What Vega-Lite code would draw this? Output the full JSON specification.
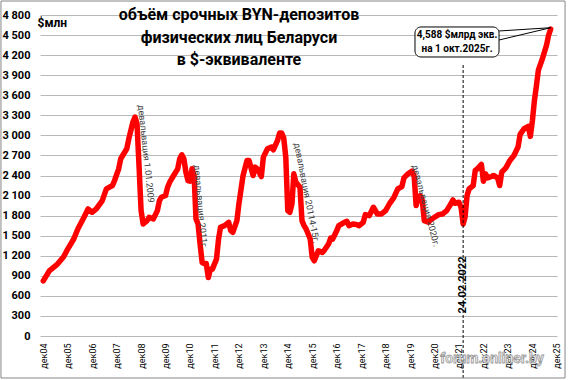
{
  "$schema": "https://vega.github.io/schema/vega-lite/v6.json",
  "width": 517,
  "height": 321,
  "autosize": "none",
  "padding": {"left": 40, "top": 15, "right": 11, "bottom": 44},
  "background": "white",
  "config": {"view": {"stroke": null}, "font": "Roboto"},
  "layer": [
    {
      "data": {"values": [
        {"date": "2004-12-01", "value": 825},
        {"date": "2005-03-01", "value": 975},
        {"date": "2005-07-01", "value": 1075},
        {"date": "2005-10-01", "value": 1185},
        {"date": "2005-12-01", "value": 1300},
        {"date": "2006-03-01", "value": 1450},
        {"date": "2006-05-01", "value": 1600},
        {"date": "2006-08-01", "value": 1775},
        {"date": "2006-10-01", "value": 1900},
        {"date": "2006-12-01", "value": 1850},
        {"date": "2007-02-01", "value": 1900},
        {"date": "2007-05-01", "value": 2025},
        {"date": "2007-07-01", "value": 2200},
        {"date": "2007-10-01", "value": 2250},
        {"date": "2007-11-01", "value": 2325},
        {"date": "2008-01-01", "value": 2500},
        {"date": "2008-02-01", "value": 2650},
        {"date": "2008-05-01", "value": 2800},
        {"date": "2008-06-01", "value": 2950},
        {"date": "2008-08-01", "value": 3200},
        {"date": "2008-09-01", "value": 3275},
        {"date": "2008-10-01", "value": 3175},
        {"date": "2008-11-01", "value": 2525},
        {"date": "2008-12-01", "value": 1875},
        {"date": "2009-01-01", "value": 1675},
        {"date": "2009-03-01", "value": 1725},
        {"date": "2009-04-01", "value": 1775},
        {"date": "2009-06-01", "value": 1750},
        {"date": "2009-08-01", "value": 1875},
        {"date": "2009-09-01", "value": 2025},
        {"date": "2009-10-01", "value": 2075},
        {"date": "2009-12-01", "value": 2100},
        {"date": "2010-01-01", "value": 2225},
        {"date": "2010-02-01", "value": 2300},
        {"date": "2010-04-01", "value": 2400},
        {"date": "2010-06-01", "value": 2500},
        {"date": "2010-07-01", "value": 2650},
        {"date": "2010-08-01", "value": 2710},
        {"date": "2010-09-01", "value": 2650},
        {"date": "2010-10-01", "value": 2450},
        {"date": "2010-11-01", "value": 2325},
        {"date": "2010-12-01", "value": 2315},
        {"date": "2011-01-01", "value": 2500},
        {"date": "2011-02-01", "value": 2400},
        {"date": "2011-03-01", "value": 1750},
        {"date": "2011-04-01", "value": 1675},
        {"date": "2011-05-01", "value": 1375},
        {"date": "2011-06-01", "value": 1100},
        {"date": "2011-07-01", "value": 1085},
        {"date": "2011-08-01", "value": 1085},
        {"date": "2011-09-01", "value": 875},
        {"date": "2011-10-01", "value": 1000},
        {"date": "2011-11-01", "value": 1000},
        {"date": "2012-01-01", "value": 1150},
        {"date": "2012-02-01", "value": 1450},
        {"date": "2012-03-01", "value": 1625},
        {"date": "2012-05-01", "value": 1650},
        {"date": "2012-07-01", "value": 1700},
        {"date": "2012-08-01", "value": 1575},
        {"date": "2012-09-01", "value": 1550},
        {"date": "2012-11-01", "value": 1725},
        {"date": "2012-12-01", "value": 1975},
        {"date": "2013-02-01", "value": 2400},
        {"date": "2013-04-01", "value": 2625},
        {"date": "2013-05-01", "value": 2625},
        {"date": "2013-07-01", "value": 2400},
        {"date": "2013-08-01", "value": 2525},
        {"date": "2013-09-01", "value": 2500},
        {"date": "2013-11-01", "value": 2385},
        {"date": "2013-12-01", "value": 2675},
        {"date": "2014-02-01", "value": 2800},
        {"date": "2014-04-01", "value": 2825},
        {"date": "2014-05-01", "value": 2785},
        {"date": "2014-07-01", "value": 2925},
        {"date": "2014-08-01", "value": 3035},
        {"date": "2014-09-01", "value": 3035},
        {"date": "2014-10-01", "value": 2965},
        {"date": "2014-11-01", "value": 2675},
        {"date": "2014-12-01", "value": 1875},
        {"date": "2015-01-01", "value": 1850},
        {"date": "2015-02-01", "value": 1975},
        {"date": "2015-03-01", "value": 2425},
        {"date": "2015-04-01", "value": 2300},
        {"date": "2015-06-01", "value": 2225},
        {"date": "2015-07-01", "value": 1725},
        {"date": "2015-08-01", "value": 1650},
        {"date": "2015-09-01", "value": 1600},
        {"date": "2015-11-01", "value": 1450},
        {"date": "2015-12-01", "value": 1175},
        {"date": "2016-01-01", "value": 1125},
        {"date": "2016-03-01", "value": 1275},
        {"date": "2016-05-01", "value": 1250},
        {"date": "2016-06-01", "value": 1285},
        {"date": "2016-08-01", "value": 1375},
        {"date": "2016-09-01", "value": 1465},
        {"date": "2016-10-01", "value": 1450},
        {"date": "2016-12-01", "value": 1575},
        {"date": "2017-01-01", "value": 1650},
        {"date": "2017-03-01", "value": 1685},
        {"date": "2017-05-01", "value": 1715},
        {"date": "2017-06-01", "value": 1650},
        {"date": "2017-08-01", "value": 1675},
        {"date": "2017-10-01", "value": 1665},
        {"date": "2017-11-01", "value": 1650},
        {"date": "2018-01-01", "value": 1700},
        {"date": "2018-02-01", "value": 1815},
        {"date": "2018-04-01", "value": 1800},
        {"date": "2018-06-01", "value": 1925},
        {"date": "2018-08-01", "value": 1825},
        {"date": "2018-10-01", "value": 1825},
        {"date": "2018-12-01", "value": 1875},
        {"date": "2019-02-01", "value": 1985},
        {"date": "2019-04-01", "value": 2065},
        {"date": "2019-06-01", "value": 2200},
        {"date": "2019-08-01", "value": 2235},
        {"date": "2019-09-01", "value": 2365},
        {"date": "2019-11-01", "value": 2425},
        {"date": "2020-01-01", "value": 2465},
        {"date": "2020-02-01", "value": 2385},
        {"date": "2020-03-01", "value": 1950},
        {"date": "2020-04-01", "value": 2075},
        {"date": "2020-05-01", "value": 2100},
        {"date": "2020-06-01", "value": 2025},
        {"date": "2020-07-01", "value": 1725},
        {"date": "2020-09-01", "value": 1700},
        {"date": "2020-10-01", "value": 1735},
        {"date": "2020-12-01", "value": 1775},
        {"date": "2021-02-01", "value": 1815},
        {"date": "2021-04-01", "value": 1825},
        {"date": "2021-06-01", "value": 1875},
        {"date": "2021-08-01", "value": 1975},
        {"date": "2021-09-01", "value": 2035},
        {"date": "2021-10-01", "value": 1985},
        {"date": "2021-12-01", "value": 2000},
        {"date": "2022-01-01", "value": 1925},
        {"date": "2022-02-01", "value": 1675},
        {"date": "2022-03-01", "value": 1775},
        {"date": "2022-04-01", "value": 2100},
        {"date": "2022-05-01", "value": 2200},
        {"date": "2022-07-01", "value": 2250},
        {"date": "2022-08-01", "value": 2475},
        {"date": "2022-09-01", "value": 2500},
        {"date": "2022-11-01", "value": 2565},
        {"date": "2022-12-01", "value": 2315},
        {"date": "2023-01-01", "value": 2425},
        {"date": "2023-02-01", "value": 2365},
        {"date": "2023-04-01", "value": 2385},
        {"date": "2023-05-01", "value": 2400},
        {"date": "2023-07-01", "value": 2365},
        {"date": "2023-08-01", "value": 2250},
        {"date": "2023-09-01", "value": 2450},
        {"date": "2023-11-01", "value": 2515},
        {"date": "2024-01-01", "value": 2625},
        {"date": "2024-03-01", "value": 2700},
        {"date": "2024-05-01", "value": 2825},
        {"date": "2024-06-01", "value": 3015},
        {"date": "2024-08-01", "value": 3100},
        {"date": "2024-10-01", "value": 3135},
        {"date": "2024-11-01", "value": 2985},
        {"date": "2024-12-01", "value": 3215},
        {"date": "2025-01-01", "value": 3525},
        {"date": "2025-02-01", "value": 3750},
        {"date": "2025-03-01", "value": 3975},
        {"date": "2025-05-01", "value": 4150},
        {"date": "2025-07-01", "value": 4350},
        {"date": "2025-08-01", "value": 4500},
        {"date": "2025-09-01", "value": 4588}
      ]},
      "mark": {"type": "line", "color": "#ff0000", "strokeWidth": 5.5, "strokeJoin": "round", "strokeCap": "round"},
      "encoding": {
        "x": {
          "field": "date", "type": "temporal",
          "scale": {"type": "utc", "domain": [{"year": 2004, "month": 10, "date": 13, "utc": true}, {"year": 2025, "month": 12, "date": 4, "utc": true}]},
          "axis": {
            "title": null, "grid": false, "domain": false, "ticks": false,
            "tickCount": 100,
            "values": [
              {"year": 2004, "month": 12, "date": 1, "utc": true},
              {"year": 2005, "month": 12, "date": 1, "utc": true},
              {"year": 2006, "month": 12, "date": 1, "utc": true},
              {"year": 2007, "month": 12, "date": 1, "utc": true},
              {"year": 2008, "month": 12, "date": 1, "utc": true},
              {"year": 2009, "month": 12, "date": 1, "utc": true},
              {"year": 2010, "month": 12, "date": 1, "utc": true},
              {"year": 2011, "month": 12, "date": 1, "utc": true},
              {"year": 2012, "month": 12, "date": 1, "utc": true},
              {"year": 2013, "month": 12, "date": 1, "utc": true},
              {"year": 2014, "month": 12, "date": 1, "utc": true},
              {"year": 2015, "month": 12, "date": 1, "utc": true},
              {"year": 2016, "month": 12, "date": 1, "utc": true},
              {"year": 2017, "month": 12, "date": 1, "utc": true},
              {"year": 2018, "month": 12, "date": 1, "utc": true},
              {"year": 2019, "month": 12, "date": 1, "utc": true},
              {"year": 2020, "month": 12, "date": 1, "utc": true},
              {"year": 2021, "month": 12, "date": 1, "utc": true},
              {"year": 2022, "month": 12, "date": 1, "utc": true},
              {"year": 2023, "month": 12, "date": 1, "utc": true},
              {"year": 2024, "month": 12, "date": 1, "utc": true},
              {"year": 2025, "month": 12, "date": 1, "utc": true}
            ],
            "labelExpr": "'дек' + utcFormat(datum.value, '%y')",
            "labelAngle": 270, "labelAlign": "right", "labelBaseline": "middle",
            "labelPadding": 7, "labelFontSize": 9, "labelColor": "#000000", "labelFont": "Roboto",
            "labelOverlap": false
          }
        },
        "y": {
          "field": "value", "type": "quantitative",
          "scale": {"domain": [0, 4800], "nice": false},
          "axis": {
            "tickCount": 100,
            "values": [0, 300, 600, 900, 1200, 1500, 1800, 2100, 2400, 2700, 3000, 3300, 3600, 3900, 4200, 4500, 4800],
            "labelExpr": "replace(format(datum.value, ','), ',', ' ')",
            "grid": true, "gridColor": "#b8b8b8", "gridWidth": 1,
            "domain": false, "ticks": false,
            "labelPadding": 10, "labelFont": "Roboto", "labelFontSize": 11, "labelFontWeight": "bold", "labelColor": "#000000",
            "labelOverlap": false,
            "title": "$млн", "titleAngle": 0, "titleX": -3, "titleY": 7,
            "titleAlign": "left", "titleBaseline": "middle",
            "titleFont": "Roboto", "titleFontSize": 12, "titleFontWeight": "bold", "titleColor": "#000000"
          }
        }
      }
    },
    {
      "data": {"values": [{}]},
      "mark": {"type": "rule", "strokeDash": [3, 2], "color": "#000000", "strokeWidth": 1},
      "encoding": {
        "x": {"datum": {"year": 2022, "month": 2, "date": 1, "utc": true}, "type": "temporal"},
        "y": {"datum": 4052},
        "y2": {"datum": -643}
      }
    },
    {
      "data": {"values": [{}]},
      "mark": {"type": "text", "angle": 270, "align": "center", "baseline": "middle", "fontSize": 11, "fontWeight": "bold", "color": "#000000", "font": "Roboto"},
      "encoding": {
        "x": {"datum": {"year": 2022, "month": 2, "date": 1, "utc": true}, "type": "temporal"},
        "y": {"datum": 763},
        "text": {"value": "24.02.2022"}
      }
    },
    {
      "data": {"values": [{}]},
      "mark": {"type": "text", "angle": 84, "align": "left", "baseline": "middle", "fontSize": 9, "color": "#404040", "font": "Roboto"},
      "encoding": {
        "x": {"datum": {"year": 2008, "month": 11, "date": 30, "utc": true}, "type": "temporal"},
        "y": {"datum": 3454},
        "text": {"value": "девальвация  1.01.2009"}
      }
    },
    {
      "data": {"values": [{}]},
      "mark": {"type": "text", "angle": 85, "align": "left", "baseline": "middle", "fontSize": 9, "color": "#404040", "font": "Roboto"},
      "encoding": {
        "x": {"datum": {"year": 2011, "month": 3, "date": 16, "utc": true}, "type": "temporal"},
        "y": {"datum": 2557},
        "text": {"value": "девальвация  2011г."}
      }
    },
    {
      "data": {"values": [{}]},
      "mark": {"type": "text", "angle": 79, "align": "left", "baseline": "middle", "fontSize": 9, "color": "#404040", "font": "Roboto"},
      "encoding": {
        "x": {"datum": {"year": 2015, "month": 4, "date": 18, "utc": true}, "type": "temporal"},
        "y": {"datum": 2886},
        "text": {"value": "девальвация  20114-15г."}
      }
    },
    {
      "data": {"values": [{}]},
      "mark": {"type": "text", "angle": 75, "align": "left", "baseline": "middle", "fontSize": 9, "color": "#404040", "font": "Roboto"},
      "encoding": {
        "x": {"datum": {"year": 2020, "month": 2, "date": 13, "utc": true}, "type": "temporal"},
        "y": {"datum": 2557},
        "text": {"value": "девальвация  2020г."}
      }
    },
    {
      "data": {"values": [{}]},
      "mark": {"type": "rule", "color": "#000000", "strokeWidth": 1},
      "encoding": {
        "x": {"datum": {"year": 2023, "month": 7, "date": 22, "utc": true}, "type": "temporal"},
        "x2": {"datum": {"year": 2025, "month": 9, "date": 1, "utc": true}},
        "y": {"datum": 4561},
        "y2": {"datum": 4610}
      }
    },
    {
      "data": {"values": [{}]},
      "mark": {"type": "rule", "color": "#000000", "strokeWidth": 1},
      "encoding": {
        "x": {"datum": {"year": 2023, "month": 7, "date": 22, "utc": true}, "type": "temporal"},
        "x2": {"datum": {"year": 2025, "month": 9, "date": 1, "utc": true}},
        "y": {"datum": 4426},
        "y2": {"datum": 4610}
      }
    },
    {
      "data": {"values": [{}]},
      "mark": {"type": "rect", "fill": "#ffffff", "stroke": "#000000", "strokeWidth": 1, "cornerRadius": 6},
      "encoding": {
        "x": {"datum": {"year": 2020, "month": 2, "date": 13, "utc": true}, "type": "temporal"},
        "x2": {"datum": {"year": 2023, "month": 7, "date": 22, "utc": true}},
        "y": {"datum": 4621},
        "y2": {"datum": 4172}
      }
    },
    {
      "data": {"values": [{}]},
      "mark": {"type": "text", "align": "center", "baseline": "middle", "fontSize": 10, "fontWeight": "bold", "color": "#000000", "font": "Roboto"},
      "encoding": {
        "x": {"datum": {"year": 2021, "month": 11, "date": 2, "utc": true}, "type": "temporal"},
        "y": {"datum": 4501},
        "text": {"value": "4,588 $млрд экв."}
      }
    },
    {
      "data": {"values": [{}]},
      "mark": {"type": "text", "align": "center", "baseline": "middle", "fontSize": 10, "fontWeight": "bold", "color": "#000000", "font": "Roboto"},
      "encoding": {
        "x": {"datum": {"year": 2021, "month": 11, "date": 2, "utc": true}, "type": "temporal"},
        "y": {"datum": 4292},
        "text": {"value": "на 1 окт.2025г."}
      }
    },
    {
      "data": {"values": [{}]},
      "mark": {"type": "text", "align": "center", "baseline": "middle", "fontSize": 16, "fontWeight": "bold", "color": "#000000", "font": "Roboto"},
      "encoding": {
        "x": {"datum": {"year": 2012, "month": 12, "date": 2, "utc": true}, "type": "temporal"},
        "y": {"datum": 4800},
        "text": {"value": "объём срочных BYN-депозитов"}
      }
    },
    {
      "data": {"values": [{}]},
      "mark": {"type": "text", "align": "center", "baseline": "middle", "fontSize": 16, "fontWeight": "bold", "color": "#000000", "font": "Roboto"},
      "encoding": {
        "x": {"datum": {"year": 2012, "month": 12, "date": 2, "utc": true}, "type": "temporal"},
        "y": {"datum": 4456},
        "text": {"value": "физических лиц Беларуси"}
      }
    },
    {
      "data": {"values": [{}]},
      "mark": {"type": "text", "align": "center", "baseline": "middle", "fontSize": 16, "fontWeight": "bold", "color": "#000000", "font": "Roboto"},
      "encoding": {
        "x": {"datum": {"year": 2012, "month": 12, "date": 2, "utc": true}, "type": "temporal"},
        "y": {"datum": 4127},
        "text": {"value": "в $-эквиваленте"}
      }
    },
    {
      "data": {"values": [{}]},
      "mark": {"type": "text", "align": "center", "baseline": "middle", "fontSize": 14, "fontWeight": "bold", "fill": "#f4f4f4", "stroke": "#9a9a9a", "strokeWidth": 0.8, "font": "Roboto"},
      "encoding": {
        "x": {"datum": {"year": 2023, "month": 4, "date": 9, "utc": true}, "type": "temporal"},
        "y": {"datum": -344},
        "text": {"value": "forum.onliner.by"}
      }
    },
    {
      "data": {"values": [{}]},
      "mark": {"type": "rect", "fill": null, "stroke": "#868686", "strokeWidth": 1},
      "encoding": {
        "x": {"datum": {"year": 2003, "month": 3, "date": 10, "utc": true}, "type": "temporal"},
        "x2": {"datum": {"year": 2026, "month": 4, "date": 3, "utc": true}},
        "y": {"datum": 5009},
        "y2": {"datum": -628}
      }
    }
  ]
}
